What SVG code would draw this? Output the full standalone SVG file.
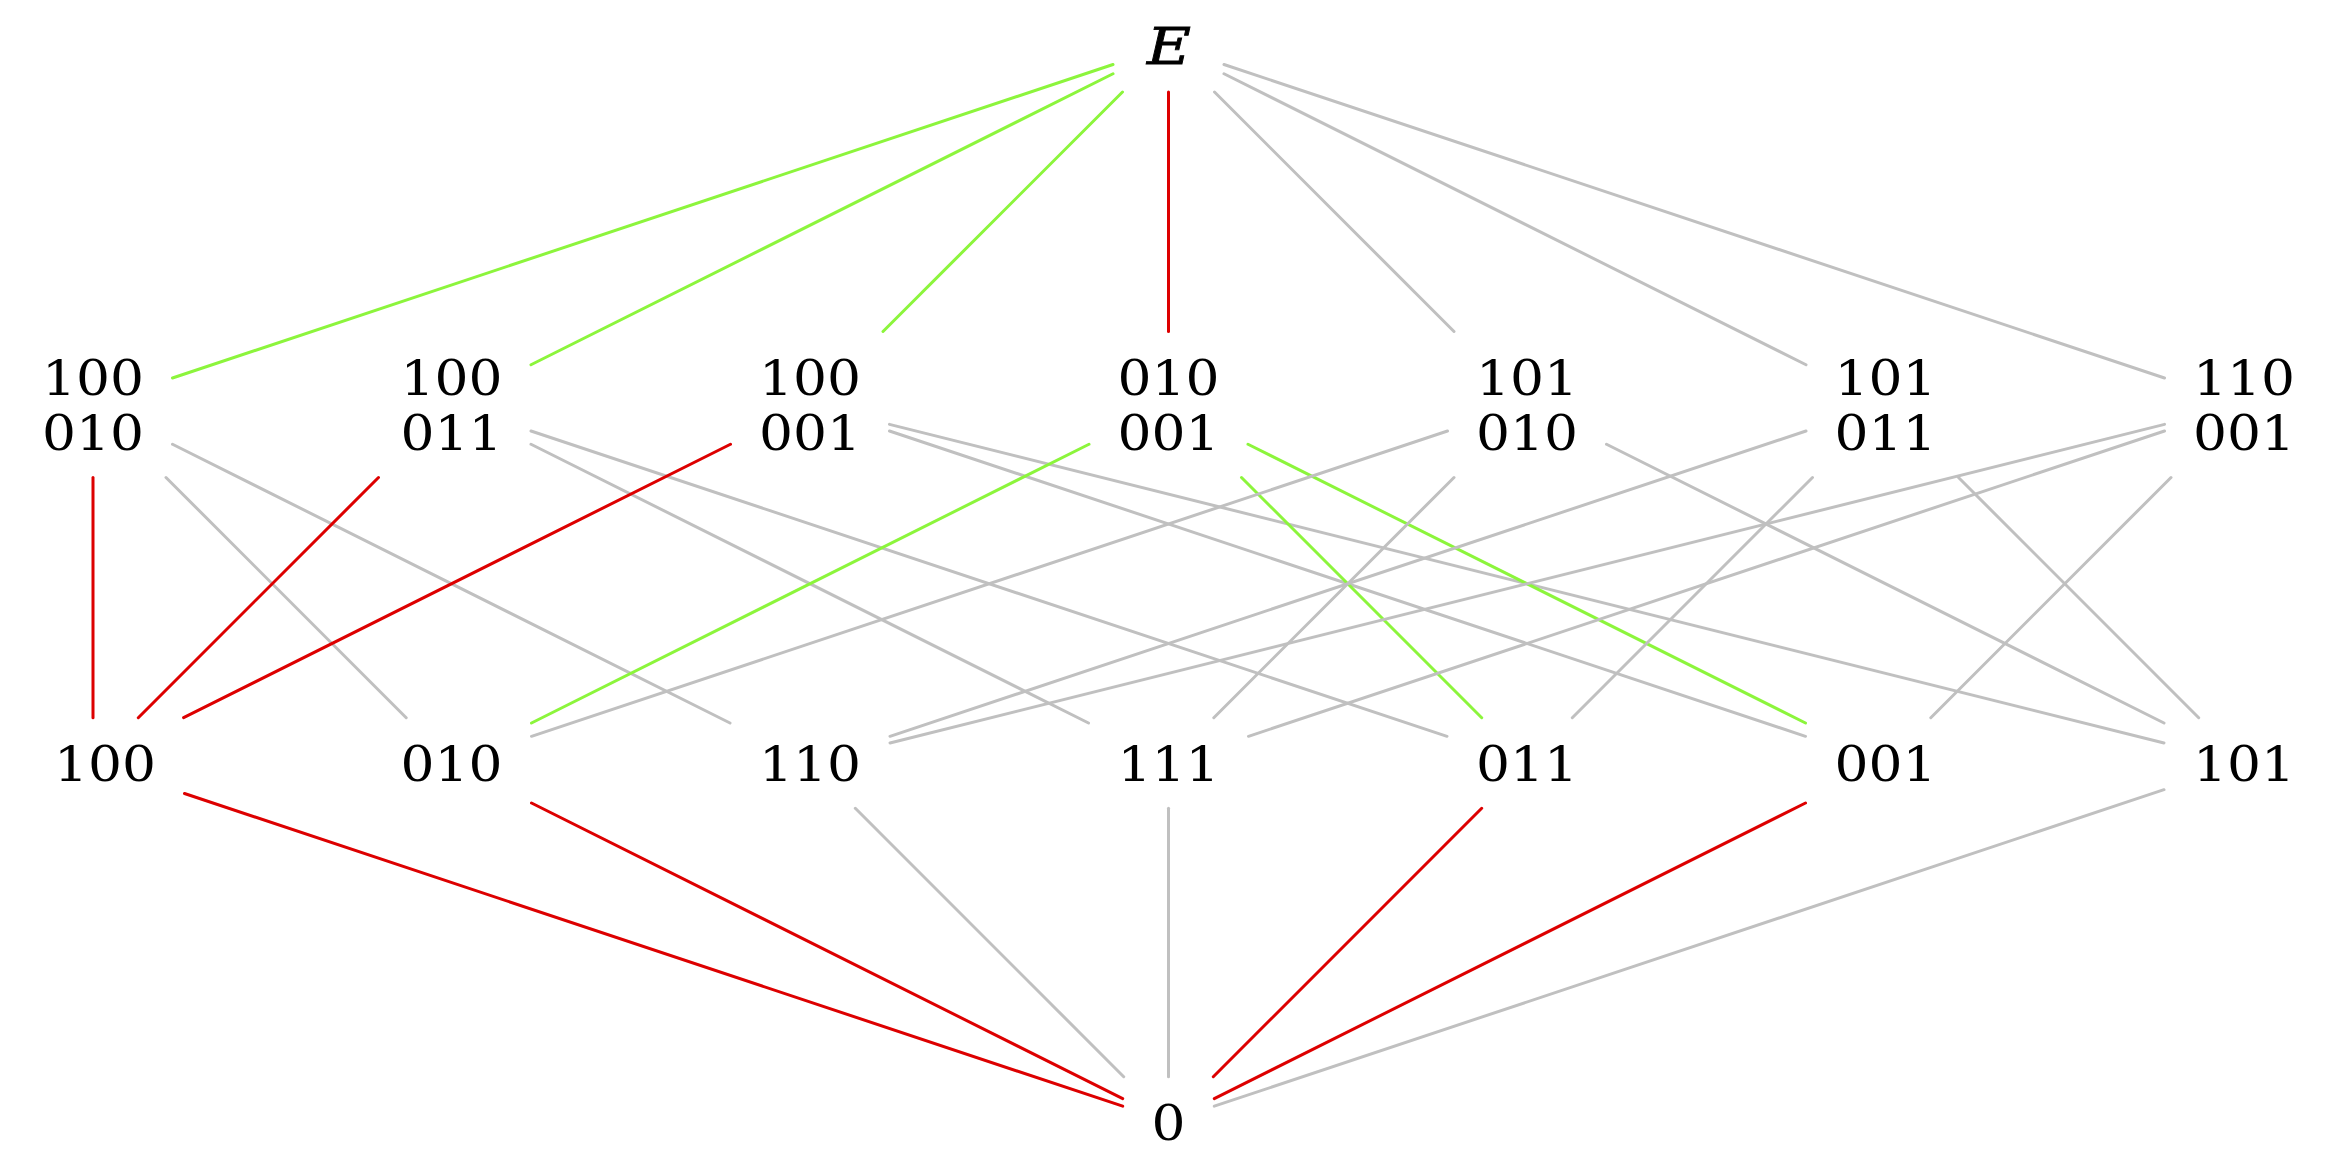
<svg xmlns="http://www.w3.org/2000/svg" width="2325" height="1168" viewBox="0 0 2325 1168">
<style>
.e{fill:none;stroke-width:3;stroke-linecap:round}
.g{stroke:#8cf53c}
.r{stroke:#dd0000}
.k{stroke:#c0c0c0}
text{font-family:"DejaVu Serif","Liberation Serif",serif;font-size:48px;fill:#000;text-anchor:middle}
.it{font-style:italic;font-size:50px;stroke:#000;stroke-width:0.8}
</style>
<rect width="2325" height="1168" fill="#fff"/>
<g id="edges">
<line class="e g" x1="1113" y1="64.5" x2="172.5" y2="378"/>
<line class="e g" x1="1113" y1="73.75" x2="531" y2="364.75"/>
<line class="e g" x1="1122.5" y1="92" x2="883" y2="331.5"/>
<line class="e r" x1="1168.5" y1="92" x2="1168.5" y2="331.5"/>
<line class="e k" x1="1214.5" y1="92" x2="1454" y2="331.5"/>
<line class="e k" x1="1224" y1="73.75" x2="1806" y2="364.75"/>
<line class="e k" x1="1224" y1="64.5" x2="2164.5" y2="378"/>

<line class="e r" x1="93" y1="477.5" x2="93" y2="717.7"/>
<line class="e k" x1="166" y1="477.5" x2="406.2" y2="717.7"/>
<line class="e k" x1="172.5" y1="444.25" x2="730" y2="723"/>
<line class="e r" x1="378.5" y1="477.5" x2="138.3" y2="717.7"/>
<line class="e k" x1="531" y1="431" x2="1447" y2="736.3"/>
<line class="e k" x1="531" y1="444.25" x2="1088.5" y2="723"/>
<line class="e r" x1="730.5" y1="444.25" x2="183.6" y2="717.7"/>
<line class="e k" x1="889.5" y1="431" x2="1805.5" y2="736.3"/>
<line class="e k" x1="889.5" y1="424.4" x2="2164" y2="743"/>
<line class="e g" x1="1089" y1="444.25" x2="531.5" y2="723"/>
<line class="e g" x1="1248" y1="444.25" x2="1805.5" y2="723"/>
<line class="e g" x1="1241.5" y1="477.5" x2="1481.7" y2="717.7"/>
<line class="e k" x1="1606.5" y1="444.25" x2="2164" y2="723"/>
<line class="e k" x1="1447.5" y1="431" x2="531.5" y2="736.3"/>
<line class="e k" x1="1454" y1="477.5" x2="1213.8" y2="717.7"/>
<line class="e k" x1="1958.5" y1="477.5" x2="2198.7" y2="717.7"/>
<line class="e k" x1="1812.5" y1="477.5" x2="1572.3" y2="717.7"/>
<line class="e k" x1="1806" y1="431" x2="890" y2="736.3"/>
<line class="e k" x1="2164.5" y1="424.4" x2="890" y2="743"/>
<line class="e k" x1="2171" y1="477.5" x2="1930.8" y2="717.7"/>
<line class="e k" x1="2164.5" y1="431" x2="1248.5" y2="736.3"/>

<line class="e r" x1="184.5" y1="793.5" x2="1122.7" y2="1106.2"/>
<line class="e r" x1="531.5" y1="803" x2="1122.7" y2="1098.6"/>
<line class="e k" x1="855.3" y1="808.3" x2="1123.7" y2="1076.7"/>
<line class="e k" x1="1168.5" y1="808.3" x2="1168.5" y2="1076.7"/>
<line class="e r" x1="1481.7" y1="808.3" x2="1213.3" y2="1076.7"/>
<line class="e r" x1="1805.5" y1="803" x2="1214.3" y2="1098.6"/>
<line class="e k" x1="2164" y1="789.7" x2="1214.3" y2="1106.2"/>
</g>
<g id="node-E"><text class="it" x="1169" y="64" textLength="44" lengthAdjust="spacingAndGlyphs">E</text></g>
<g id="node-100-010"><text x="93" y="395" textLength="102" lengthAdjust="spacingAndGlyphs">100</text><text x="93" y="450" textLength="102" lengthAdjust="spacingAndGlyphs">010</text></g>
<g id="node-100-011"><text x="451.5" y="395" textLength="102" lengthAdjust="spacingAndGlyphs">100</text><text x="451.5" y="450" textLength="102" lengthAdjust="spacingAndGlyphs">011</text></g>
<g id="node-100-001"><text x="810" y="395" textLength="102" lengthAdjust="spacingAndGlyphs">100</text><text x="810" y="450" textLength="102" lengthAdjust="spacingAndGlyphs">001</text></g>
<g id="node-010-001"><text x="1168.5" y="395" textLength="102" lengthAdjust="spacingAndGlyphs">010</text><text x="1168.5" y="450" textLength="102" lengthAdjust="spacingAndGlyphs">001</text></g>
<g id="node-101-010"><text x="1527" y="395" textLength="102" lengthAdjust="spacingAndGlyphs">101</text><text x="1527" y="450" textLength="102" lengthAdjust="spacingAndGlyphs">010</text></g>
<g id="node-101-011"><text x="1885.5" y="395" textLength="102" lengthAdjust="spacingAndGlyphs">101</text><text x="1885.5" y="450" textLength="102" lengthAdjust="spacingAndGlyphs">011</text></g>
<g id="node-110-001"><text x="2244" y="395" textLength="102" lengthAdjust="spacingAndGlyphs">110</text><text x="2244" y="450" textLength="102" lengthAdjust="spacingAndGlyphs">001</text></g>
<g id="node-100"><text x="105" y="780.7" textLength="102" lengthAdjust="spacingAndGlyphs">100</text></g>
<g id="node-010"><text x="451.5" y="780.7" textLength="102" lengthAdjust="spacingAndGlyphs">010</text></g>
<g id="node-110"><text x="810" y="780.7" textLength="102" lengthAdjust="spacingAndGlyphs">110</text></g>
<g id="node-111"><text x="1168.5" y="780.7" textLength="102" lengthAdjust="spacingAndGlyphs">111</text></g>
<g id="node-011"><text x="1527" y="780.7" textLength="102" lengthAdjust="spacingAndGlyphs">011</text></g>
<g id="node-001"><text x="1885.5" y="780.7" textLength="102" lengthAdjust="spacingAndGlyphs">001</text></g>
<g id="node-101"><text x="2244" y="780.7" textLength="102" lengthAdjust="spacingAndGlyphs">101</text></g>
<g id="node-0"><text x="1168.5" y="1140" textLength="34" lengthAdjust="spacingAndGlyphs">0</text></g>
</svg>
